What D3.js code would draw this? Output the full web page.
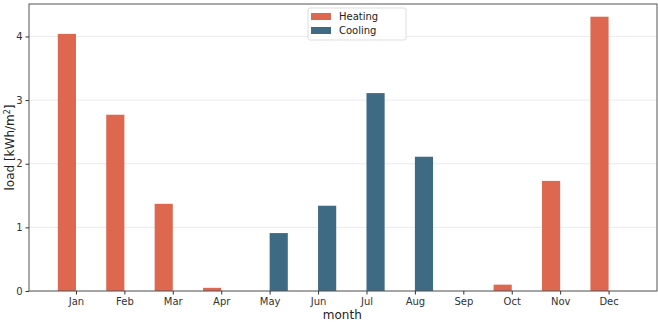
<!DOCTYPE html>
<html>
<head>
<meta charset="utf-8">
<script src="https://cdn.jsdelivr.net/npm/d3@7"></script>
<style>
  body { margin: 0; background: #fff; }
  text { font-family: "DejaVu Sans", sans-serif; }
</style>
</head>
<body>
<div id="chart"></div>
<script>
var months = ["Jan","Feb","Mar","Apr","May","Jun","Jul","Aug","Sep","Oct","Nov","Dec"];
var heating = [4.04, 2.77, 1.37, 0.05, 0, 0, 0, 0, 0, 0.10, 1.73, 4.31];
var cooling = [0, 0, 0, 0, 0.91, 1.34, 3.11, 2.11, 0, 0, 0, 0];
var yTicks = [0, 1, 2, 3, 4];
var seriesNames = ["Heating", "Cooling"];
var colors = ["#de684f", "#3e6b83"];

var W = 658, H = 322;
var margin = {top: 4, right: 1, bottom: 31, left: 29};
var width = W - margin.left - margin.right,
    height = H - margin.top - margin.bottom;

var svg = d3.select("#chart").append("svg")
    .attr("width", W).attr("height", H);
var g = svg.append("g")
    .attr("transform", "translate(" + margin.left + "," + margin.top + ")");

var xScale = d3.scaleLinear().domain([-0.97, 12]).range([0, width]);
var yScale = d3.scaleLinear().domain([0, 4.51]).range([height, 0]);
var barW = xScale(0.375) - xScale(0);

// grid
g.append("g").selectAll("line").data(yTicks).enter().append("line")
    .attr("x1", 0).attr("x2", width)
    .attr("y1", d => yScale(d)).attr("y2", d => yScale(d))
    .attr("stroke", "#e6e6e6").attr("stroke-width", 0.8);

// bars
var data = [heating, cooling];
data.forEach(function(vals, s) {
  g.append("g").selectAll("rect").data(vals).enter().append("rect")
    .attr("x", (d, i) => s === 0 ? xScale(i) - barW : xScale(i))
    .attr("width", barW)
    .attr("y", d => yScale(d))
    .attr("height", d => height - yScale(d))
    .attr("fill", colors[s]);
});

// frame
g.append("rect").attr("width", width).attr("height", height)
    .attr("fill", "none").attr("stroke", "#555").attr("stroke-width", 1);

// axes
var xAxis = d3.axisBottom(xScale).tickValues(d3.range(12))
    .tickFormat(i => months[i]).tickSize(3.5).tickPadding(3);
var yAxis = d3.axisLeft(yScale).tickValues(yTicks).tickFormat(d3.format("d"))
    .tickSize(3.5).tickPadding(3);

var gx = g.append("g").attr("transform", "translate(0," + height + ")").call(xAxis);
var gy = g.append("g").call(yAxis);
[gx, gy].forEach(function(a) {
  a.select(".domain").remove();
  a.selectAll("line").attr("stroke", "#333");
  a.selectAll("text").attr("fill", "#333").style("font-size", "10px")
    .style("font-family", "DejaVu Sans, sans-serif");
});

// axis labels
svg.append("text").attr("x", margin.left + xScale(5.5)).attr("y", 319)
    .attr("text-anchor", "middle").attr("fill", "#222").style("font-size", "12px")
    .text("month");
svg.append("text")
    .attr("transform", "translate(14," + (margin.top + height / 2) + ") rotate(-90)")
    .attr("text-anchor", "middle").attr("fill", "#222").style("font-size", "12px")
    .html("load [kWh/m<tspan dy='-4' style='font-size:8px'>2</tspan><tspan dy='4'>]</tspan>");

// legend
var lg = svg.append("g").attr("transform", "translate(308,8)");
lg.append("rect").attr("width", 98).attr("height", 32).attr("rx", 2)
    .attr("fill", "#fff").attr("fill-opacity", 0.8).attr("stroke", "#ddd");
seriesNames.forEach(function(n, i) {
  lg.append("rect").attr("x", 3).attr("y", 5 + i * 14).attr("width", 20).attr("height", 7)
    .attr("fill", colors[i]);
  lg.append("text").attr("x", 31).attr("y", 12 + i * 14).attr("fill", "#222")
    .style("font-size", "10px").text(n);
});
</script>
</body>
</html>
